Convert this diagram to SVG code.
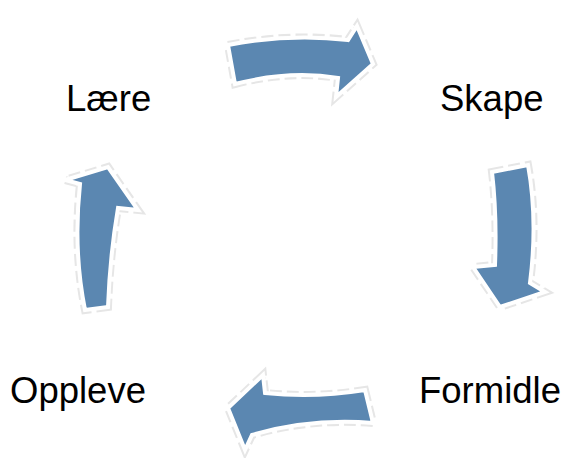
<svg xmlns="http://www.w3.org/2000/svg" width="566" height="458" viewBox="0 0 566 458">
<style>
.lbl{font-family:"Liberation Sans",Arial,sans-serif;font-size:36.5px;fill:#000}
.arr{fill:#5b87b1;stroke:#ffffff;stroke-width:4;stroke-linejoin:miter}
.halo{fill:none;stroke:#e6e6e6;stroke-width:8;stroke-dasharray:12 5;stroke-linejoin:miter}
</style>
<rect width="566" height="458" fill="#ffffff"/>
<g id="connectors">
<g id="arrow-top">
<path class="halo" d="M228,45 Q290,33 348,40 L357,26 L373,64 L336,97 L338,78 Q290,70 235,84 Z"/>
<path class="arr" d="M228,45 Q290,33 348,40 L357,26 L373,64 L336,97 L338,78 Q290,70 235,84 Z"/>
</g>
<g id="arrow-right">
<path class="halo" d="M492,172 L528,165 Q538,220 530,283 L545,292 L500,307 L473,267 L495,265 Q497,215 492,172 Z"/>
<path class="arr" d="M492,172 L528,165 Q538,220 530,283 L545,292 L500,307 L473,267 L495,265 Q497,215 492,172 Z"/>
</g>
<g id="arrow-bottom">
<path class="halo" d="M365,390 L373,423 Q310,418 252,435 L245,450 L228,408 L263,375 L265,393 Q315,398 365,390 Z"/>
<path class="arr" d="M365,390 L373,423 Q310,418 252,435 L245,450 L228,408 L263,375 L265,393 Q315,398 365,390 Z"/>
</g>
<g id="arrow-left">
<path class="halo" d="M108,307 L85,310 Q73,250 80,184 L65,180 L108,167 L138,210 L118,208 Q110,255 108,307 Z"/>
<path class="arr" d="M108,307 L85,310 Q73,250 80,184 L65,180 L108,167 L138,210 L118,208 Q110,255 108,307 Z"/>
</g>
</g>
<g id="node-laere"><text class="lbl" x="66" y="111">Lære</text></g>
<g id="node-skape"><text class="lbl" x="440" y="111">Skape</text></g>
<g id="node-formidle"><text class="lbl" x="419" y="403">Formidle</text></g>
<g id="node-oppleve"><text class="lbl" x="10" y="403">Oppleve</text></g>
</svg>
